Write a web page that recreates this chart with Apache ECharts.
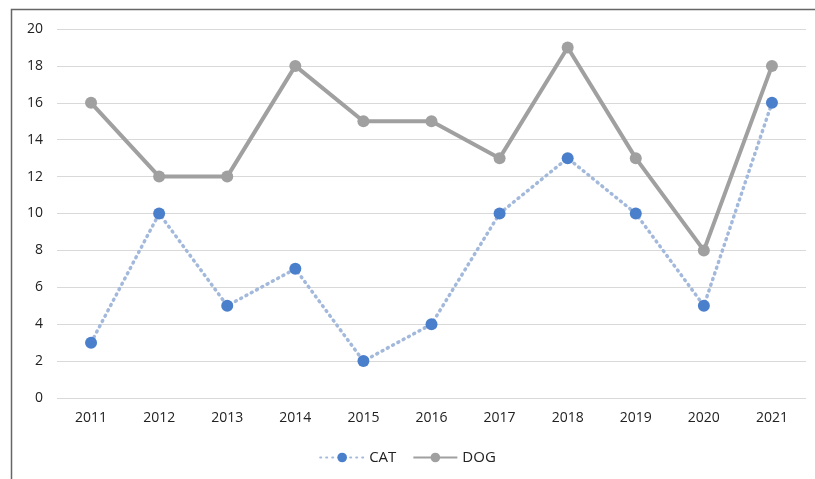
<!DOCTYPE html>
<html>
<head>
<meta charset="utf-8">
<script src="https://cdn.jsdelivr.net/npm/echarts@6/dist/echarts.min.js"></script>
<style>
  html, body { margin: 0; padding: 0; background: #fff; }
  #main { width: 815px; height: 479px; }
</style>
</head>
<body>
<div id="main"></div>
<script>
var years = ['2011', '2012', '2013', '2014', '2015', '2016', '2017', '2018', '2019', '2020', '2021'];
var cat = [3, 10, 5, 7, 2, 4, 10, 13, 10, 5, 16];
var dog = [16, 12, 12, 18, 15, 15, 13, 19, 13, 8, 18];

var chart = echarts.init(document.getElementById('main'));
var font = 'Open Sans';

var option = {
  animation: false,
  backgroundColor: '#fff',
  textStyle: { fontFamily: font },
  graphic: [{
    type: 'polyline',
    shape: { points: [[11.5, 479], [11.5, 9.5], [815, 9.5]] },
    style: { stroke: '#666', lineWidth: 1.5, fill: null }
  }],
  grid: { left: 57, right: 9, top: 29, bottom: 81 },
  legend: {
    bottom: 9,
    left: 'center',
    itemWidth: 44,
    itemHeight: 12,
    itemGap: 16,
    textStyle: { fontFamily: font, fontSize: 15, color: '#222' },
    data: ['CAT', 'DOG']
  },
  xAxis: {
    type: 'category',
    data: years,
    axisLine: { show: false },
    axisTick: { show: false },
    axisLabel: { color: '#222', fontSize: 14, margin: 13 }
  },
  yAxis: {
    type: 'value',
    min: 0,
    max: 20,
    interval: 2,
    axisLine: { show: false },
    axisTick: { show: false },
    axisLabel: { color: '#222', fontSize: 14, margin: 14 },
    splitLine: { lineStyle: { color: '#d9d9d9', width: 1.2 } }
  },
  series: [{
    name: 'CAT',
    type: 'line',
    data: cat,
    symbol: 'circle',
    symbolSize: 12,
    z: 3,
    itemStyle: { color: '#4a7fcb' },
    lineStyle: { color: '#a3b9dc', width: 3.5, type: [1, 5], cap: 'round' }
  }, {
    name: 'DOG',
    type: 'line',
    data: dog,
    symbol: 'circle',
    symbolSize: 12,
    z: 2,
    itemStyle: { color: '#a0a0a0' },
    lineStyle: { color: '#a0a0a0', width: 4 }
  }]
};
chart.setOption(option);
</script>
</body>
</html>
